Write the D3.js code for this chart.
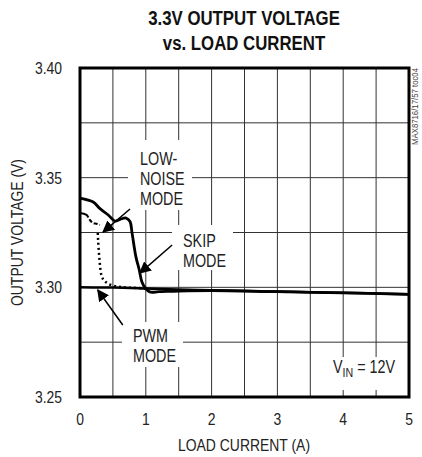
<!DOCTYPE html>
<html>
<head>
<meta charset="utf-8">
<script src="https://cdn.jsdelivr.net/npm/d3@7"></script>
<style>
  body { margin: 0; background: #fff; }
  text { font-family: "Liberation Sans", Arial, sans-serif; fill: #222; }
</style>
</head>
<body>
<svg id="chart"></svg>
<script>
// load current (A) / output voltage (V)
var xTicks = [0, 1, 2, 3, 4, 5];
var yTicks = [3.25, 3.30, 3.35, 3.40];
var yTickLabels = ["3.25", "3.30", "3.35", "3.40"];

var pwmI = [0, 0.5, 1, 1.5, 2, 2.5, 3, 3.5, 4, 4.5, 5];
var pwmV = [3.3000, 3.2999, 3.2995, 3.2990, 3.2987, 3.2984, 3.2981, 3.2978, 3.2975, 3.2972, 3.2968];

var skipI = [0, 0.2, 0.3, 0.43, 0.53, 0.61, 0.7, 0.76, 0.79, 0.85, 0.9, 0.94, 0.99, 1.06, 1.2, 1.5, 2, 3, 4, 5];
var skipV = [3.3407, 3.3389, 3.336, 3.333, 3.3302, 3.331, 3.3316, 3.330, 3.325, 3.3139, 3.308, 3.3025, 3.2997, 3.2979, 3.2980, 3.2983, 3.2985, 3.2980, 3.2975, 3.2968];

var lowNoiseI = [0, 0.1, 0.15, 0.2, 0.26, 0.3];
var lowNoiseV = [3.3339, 3.333, 3.3307, 3.3293, 3.3289, 3.3284];
var lowNoiseDropI = [0.27, 0.28, 0.3, 0.32, 0.38, 0.46, 0.61, 0.8, 1.0];
var lowNoiseDropV = [3.3248, 3.3184, 3.311, 3.3047, 3.3025, 3.301, 3.300, 3.2998, 3.2995];

var w = 422, h = 457;
var margin = {left: 80, top: 68, right: 13, bottom: 60};
var sx = 0.82; // horizontal squeeze for a condensed look

var svg = d3.select("#chart").attr("width", w).attr("height", h);

var x = d3.scaleLinear().domain([0, 5]).range([margin.left, w - margin.right]);
var y = d3.scaleLinear().domain([3.25, 3.40]).range([h - margin.bottom, margin.top]);

// condensed text helper
function ctext(parent, px, py, str, size, anchor, rot) {
  var t = "translate(" + px + "," + py + ")" + (rot ? " rotate(" + rot + ")" : "") + " scale(" + sx + ",1)";
  return parent.append("text").attr("transform", t)
    .attr("text-anchor", anchor || "start")
    .style("font-size", size + "px")
    .text(str);
}

// title
ctext(svg, 244, 25, "3.3V OUTPUT VOLTAGE", 20.5, "middle").style("font-weight", "bold").style("fill", "#111");
ctext(svg, 244, 50, "vs. LOAD CURRENT", 20.5, "middle").style("font-weight", "bold").style("fill", "#111");

// grid
var grid = svg.append("g").attr("stroke", "#333").attr("stroke-width", 1);
d3.range(1, 10).forEach(function(i) {
  var xv = x(i * 0.5);
  grid.append("line").attr("x1", xv).attr("x2", xv).attr("y1", y(3.40)).attr("y2", y(3.25));
});
d3.range(1, 6).forEach(function(i) {
  var yv = y(3.25 + i * 0.025);
  grid.append("line").attr("x1", x(0)).attr("x2", x(5)).attr("y1", yv).attr("y2", yv);
});

// white boxes behind the labels (break the grid)
var boxes = [
  [128, 140, 64, 70],
  [172, 225, 61, 45],
  [122, 322, 61, 45],
  [325, 357, 75, 33]
];
svg.selectAll("rect.lbl").data(boxes).enter().append("rect")
  .attr("x", function(d) { return d[0]; })
  .attr("y", function(d) { return d[1]; })
  .attr("width", function(d) { return d[2]; })
  .attr("height", function(d) { return d[3]; })
  .attr("fill", "#fff");

// curves
var line = d3.line()
  .x(function(d) { return x(d[0]); })
  .y(function(d) { return y(d[1]); })
  .curve(d3.curveMonotoneX);

svg.append("path").datum(d3.zip(pwmI, pwmV))
  .attr("d", line).attr("fill", "none").attr("stroke", "#000").attr("stroke-width", 2.5);

svg.append("path").datum(d3.zip(lowNoiseI, lowNoiseV))
  .attr("d", line).attr("fill", "none").attr("stroke", "#000").attr("stroke-width", 2)
  .attr("stroke-dasharray", "10,2,4,2,4,2");

svg.append("path").datum(d3.zip(lowNoiseDropI, lowNoiseDropV))
  .attr("d", d3.line().x(function(d) { return x(d[0]); }).y(function(d) { return y(d[1]); }).curve(d3.curveBasis))
  .attr("fill", "none").attr("stroke", "#000").attr("stroke-width", 2.5)
  .attr("stroke-dasharray", "2,3");

svg.append("path").datum(d3.zip(skipI, skipV))
  .attr("d", d3.line().x(function(d) { return x(d[0]); }).y(function(d) { return y(d[1]); }).curve(d3.curveCatmullRom))
  .attr("fill", "none").attr("stroke", "#000").attr("stroke-width", 2.8);

// frame
svg.append("rect").attr("x", x(0)).attr("y", y(3.40))
  .attr("width", x(5) - x(0)).attr("height", y(3.25) - y(3.40))
  .attr("fill", "none").attr("stroke", "#000").attr("stroke-width", 3);

// axes labels
xTicks.forEach(function(d) { ctext(svg, x(d), 425, d, 17, "middle"); });
yTicks.forEach(function(d, i) { ctext(svg, 62, y(d) + 6, yTickLabels[i], 17, "end"); });

ctext(svg, 244, 451, "LOAD CURRENT (A)", 17, "middle");
ctext(svg, 23, y(3.325), "OUTPUT VOLTAGE (V)", 17, "middle", -90);
ctext(svg, 418, y(3.40), "MAX8716/17/57 toc04", 9.5, "end", -90).style("fill", "#444");

// annotations
function label(lines, x0, y0) {
  lines.forEach(function(s, i) { ctext(svg, x0, y0 + i * 20, s, 17.5, "start"); });
}
label(["LOW-", "NOISE", "MODE"], 140, 165);
label(["SKIP", "MODE"], 183, 247);
label(["PWM", "MODE"], 133, 342);

var vin = svg.append("text").attr("transform", "translate(333,373) scale(" + sx + ",1)").style("font-size", "17.5px");
vin.append("tspan").text("V");
vin.append("tspan").attr("dy", 4).style("font-size", "13px").text("IN");
vin.append("tspan").attr("dy", -4).text(" = 12V");

// arrows (tail -> tip, in data units)
var arrows = [
  [[0.76, 3.3357], [0.35, 3.3252]],
  [[1.40, 3.3193], [0.91, 3.3065]],
  [[0.65, 3.2828], [0.27, 3.2988]]
];
svg.append("defs").append("marker").attr("id", "head")
  .attr("viewBox", "0 0 10 10").attr("refX", 9).attr("refY", 5)
  .attr("markerWidth", 12).attr("markerHeight", 12).attr("markerUnits", "userSpaceOnUse")
  .attr("orient", "auto")
  .append("path").attr("d", "M0,0 L10,5 L0,10 z").attr("fill", "#000");
svg.selectAll("line.arr").data(arrows).enter().append("line")
  .attr("x1", function(d) { return x(d[0][0]); }).attr("y1", function(d) { return y(d[0][1]); })
  .attr("x2", function(d) { return x(d[1][0]); }).attr("y2", function(d) { return y(d[1][1]); })
  .attr("stroke", "#000").attr("stroke-width", 1.5).attr("marker-end", "url(#head)");
</script>
</body>
</html>
